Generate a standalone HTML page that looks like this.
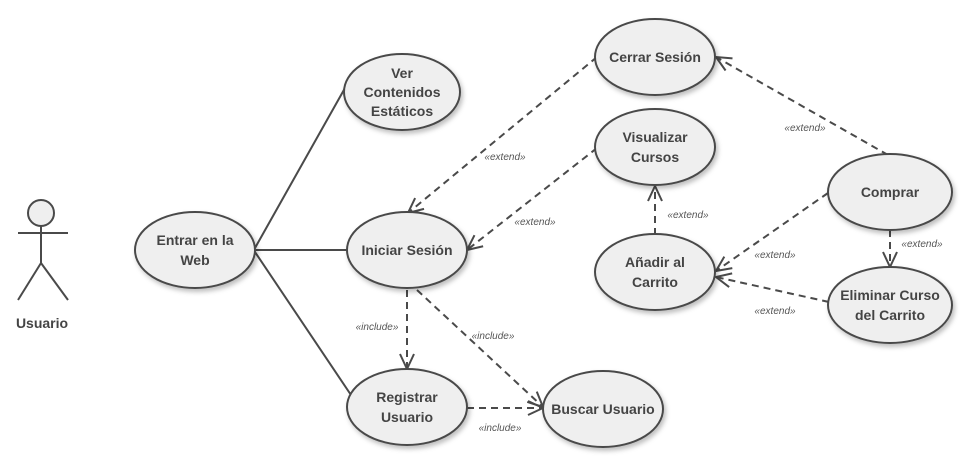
<!DOCTYPE html>
<html><head><meta charset="utf-8"><style>
html,body{margin:0;padding:0;background:#fff;}
svg{display:block;}
.u{fill:#efefef;stroke:#4a4a4a;stroke-width:2;filter:url(#sh);}
.t{font-family:"Liberation Sans",sans-serif;font-weight:bold;font-size:14px;fill:#444;text-anchor:middle;}
.s{font-family:"Liberation Sans",sans-serif;font-style:italic;font-size:10px;fill:#555;text-anchor:middle;}
.l{stroke:#4a4a4a;stroke-width:2;fill:none;}
.d{stroke:#4a4a4a;stroke-width:2;fill:none;stroke-dasharray:7,5;}
</style></head><body>
<svg width="974" height="467" viewBox="0 0 974 467">
<defs>
<filter id="sh" x="-20%" y="-20%" width="150%" height="150%"><feDropShadow dx="2" dy="3" stdDeviation="2.5" flood-color="#000" flood-opacity="0.25"/></filter>
<marker id="a" markerWidth="18" markerHeight="18" refX="16" refY="9" orient="auto" markerUnits="userSpaceOnUse"><path d="M1,2 L16,9 L1,16" fill="none" stroke="#4a4a4a" stroke-width="2"/></marker>
</defs>
<circle cx="41" cy="213" r="13" fill="#efefef" stroke="#4a4a4a" stroke-width="2"/>
<line class="l" x1="41" y1="226" x2="41" y2="263"/>
<line class="l" x1="18" y1="233" x2="68" y2="233"/>
<line class="l" x1="41" y1="263" x2="18" y2="300"/>
<line class="l" x1="41" y1="263" x2="68" y2="300"/>
<text class="t" x="42" y="328">Usuario</text>
<line class="l" x1="255" y1="248" x2="345" y2="88"/>
<line class="l" x1="255" y1="250" x2="347" y2="250"/>
<line class="l" x1="255" y1="252" x2="353" y2="398"/>
<line class="d" x1="597" y1="57" x2="408" y2="213" marker-end="url(#a)"/>
<text class="s" x="505" y="160">«extend»</text>
<line class="d" x1="597" y1="148" x2="467" y2="250" marker-end="url(#a)"/>
<text class="s" x="535" y="225">«extend»</text>
<line class="d" x1="407" y1="290" x2="407" y2="369" marker-end="url(#a)"/>
<text class="s" x="377" y="330">«include»</text>
<line class="d" x1="417" y1="290" x2="543" y2="407" marker-end="url(#a)"/>
<text class="s" x="493" y="339">«include»</text>
<line class="d" x1="467" y1="408" x2="543" y2="408" marker-end="url(#a)"/>
<text class="s" x="500" y="431">«include»</text>
<line class="d" x1="655" y1="235" x2="655" y2="186" marker-end="url(#a)"/>
<text class="s" x="688" y="218">«extend»</text>
<line class="d" x1="888" y1="155" x2="716" y2="57" marker-end="url(#a)"/>
<text class="s" x="805" y="131">«extend»</text>
<line class="d" x1="828" y1="193" x2="716" y2="271" marker-end="url(#a)"/>
<text class="s" x="775" y="258">«extend»</text>
<line class="d" x1="829" y1="302" x2="716" y2="277" marker-end="url(#a)"/>
<text class="s" x="775" y="314">«extend»</text>
<line class="d" x1="890" y1="230" x2="890" y2="267" marker-end="url(#a)"/>
<text class="s" x="922" y="247">«extend»</text>
<ellipse class="u" cx="195" cy="250" rx="60" ry="38"/>
<text class="t" x="195" y="245">Entrar en la</text><text class="t" x="195" y="265">Web</text>
<ellipse class="u" cx="402" cy="92" rx="58" ry="38"/>
<text class="t" x="402" y="78">Ver</text><text class="t" x="402" y="97">Contenidos</text><text class="t" x="402" y="116">Estáticos</text>
<ellipse class="u" cx="407" cy="250" rx="60" ry="38"/>
<text class="t" x="407" y="255">Iniciar Sesión</text>
<ellipse class="u" cx="407" cy="407" rx="60" ry="38"/>
<text class="t" x="407" y="402">Registrar</text><text class="t" x="407" y="422">Usuario</text>
<ellipse class="u" cx="603" cy="409" rx="60" ry="38"/>
<text class="t" x="603" y="414">Buscar Usuario</text>
<ellipse class="u" cx="655" cy="57" rx="60" ry="38"/>
<text class="t" x="655" y="62">Cerrar Sesión</text>
<ellipse class="u" cx="655" cy="147" rx="60" ry="38"/>
<text class="t" x="655" y="142">Visualizar</text><text class="t" x="655" y="162">Cursos</text>
<ellipse class="u" cx="655" cy="272" rx="60" ry="38"/>
<text class="t" x="655" y="267">Añadir al</text><text class="t" x="655" y="287">Carrito</text>
<ellipse class="u" cx="890" cy="192" rx="62" ry="38"/>
<text class="t" x="890" y="197">Comprar</text>
<ellipse class="u" cx="890" cy="305" rx="62" ry="38"/>
<text class="t" x="890" y="300">Eliminar Curso</text><text class="t" x="890" y="320">del Carrito</text>
</svg>
</body></html>
